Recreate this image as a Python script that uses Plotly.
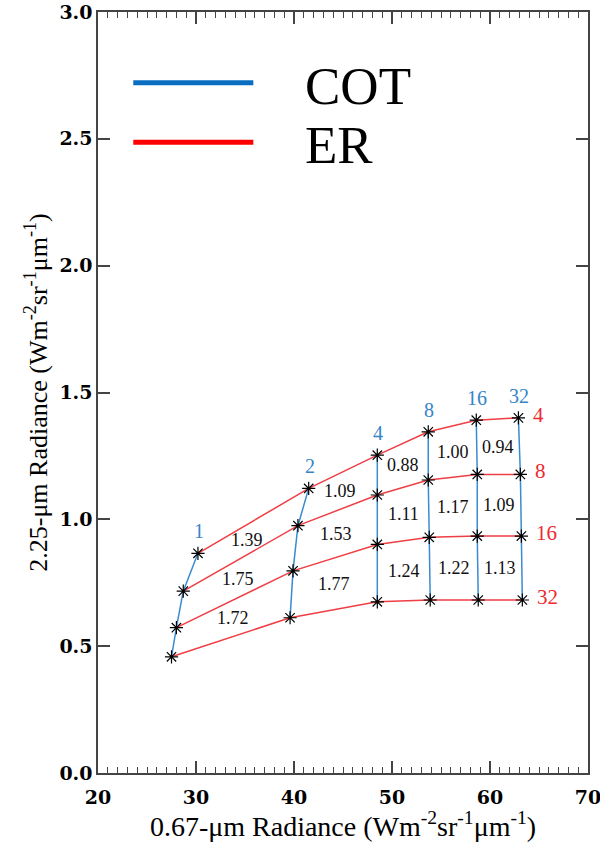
import plotly.graph_objects as go

# Lookup-table grid: cloud optical thickness (COT) and effective radius (ER)
cot = [1, 2, 4, 8, 16, 32]
er = [4, 8, 16, 32]

# 0.67-um radiance, one row per ER, columns follow COT
rad067 = [
    [30.2, 41.5, 48.5, 53.7, 58.6, 62.9],
    [28.7, 40.4, 48.5, 53.7, 58.7, 63.1],
    [28.0, 39.9, 48.5, 53.8, 58.7, 63.2],
    [27.5, 39.6, 48.5, 53.9, 58.8, 63.3],
]
# 2.25-um radiance, same layout
rad225 = [
    [0.866, 1.122, 1.253, 1.345, 1.391, 1.400],
    [0.717, 0.975, 1.096, 1.155, 1.177, 1.177],
    [0.573, 0.797, 0.901, 0.929, 0.934, 0.934],
    [0.458, 0.612, 0.675, 0.682, 0.682, 0.682],
]
# values written inside each grid cell (rows: ER pairs, columns: COT pairs)
ratios = [
    [1.39, 1.09, 0.88, 1.00, 0.94],
    [1.75, 1.53, 1.11, 1.17, 1.09],
    [1.72, 1.77, 1.24, 1.22, 1.13],
]

legend_names = ["COT", "ER"]

BLUE_LINE = "#3a8bd2"
RED_LINE = "#ef3e44"
BLUE_TXT = "#3585c8"
RED_TXT = "#ec2a30"
SERIF = "Liberation Serif, Times New Roman, Times, serif"
BOLD_SERIF = "DejaVu Serif, serif"

fig = go.Figure()

# constant-ER curves
for i in range(len(er)):
    fig.add_trace(go.Scatter(x=rad067[i], y=rad225[i], mode="lines",
                             line=dict(color=RED_LINE, width=1.5),
                             showlegend=False, hoverinfo="skip"))
# constant-COT curves
for j in range(len(cot)):
    fig.add_trace(go.Scatter(x=[row[j] for row in rad067],
                             y=[row[j] for row in rad225], mode="lines",
                             line=dict(color=BLUE_LINE, width=1.5),
                             showlegend=False, hoverinfo="skip"))
# grid nodes
fig.add_trace(go.Scatter(x=[v for row in rad067 for v in row],
                         y=[v for row in rad225 for v in row], mode="markers",
                         marker=dict(symbol="asterisk-open", size=11, color="black",
                                     line=dict(color="black", width=1.2)),
                         showlegend=False))

ann = []
# COT labels above the top curve
for j, c in enumerate(cot):
    ann.append(dict(x=rad067[0][j], y=rad225[0][j], text=str(c), showarrow=False,
                    xshift=1, yshift=22,
                    font=dict(family=SERIF, size=20, color=BLUE_TXT)))
# ER labels right of the last column
for i, e in enumerate(er):
    ann.append(dict(x=rad067[i][-1], y=rad225[i][-1], text=str(e), showarrow=False,
                    xanchor="left", xshift=13, yshift=3,
                    font=dict(family=SERIF, size=21, color=RED_TXT)))
# cell values at cell centres
for i in range(len(er) - 1):
    for j in range(len(cot) - 1):
        cx = (rad067[i][j] + rad067[i][j + 1] + rad067[i + 1][j] + rad067[i + 1][j + 1]) / 4
        cy = (rad225[i][j] + rad225[i][j + 1] + rad225[i + 1][j] + rad225[i + 1][j + 1]) / 4
        ann.append(dict(x=cx, y=cy, text=f"{ratios[i][j]:.2f}", showarrow=False,
                        font=dict(family=SERIF, size=18, color="#111")))

# legend drawn as thick bars with large labels
shapes = []
for k, (name, col, ly) in enumerate(zip(legend_names, ["#0a6ec0", "#ff0000"], [0.907, 0.829])):
    shapes.append(dict(type="line", xref="paper", yref="paper",
                       x0=0.072, x1=0.317, y0=ly, y1=ly,
                       line=dict(color=col, width=5)))
    ann.append(dict(xref="paper", yref="paper", x=0.419, y=ly, text=name,
                    showarrow=False, xanchor="left", yanchor="middle", yshift=-3,
                    font=dict(family=SERIF, size=53, color="black")))

axis_line = dict(showline=True, linecolor="#444", linewidth=1.5, mirror="ticks",
                 ticks="inside", ticklen=12, tickwidth=1.5, tickcolor="#444",
                 showgrid=False, zeroline=False, automargin=False,
                 ticklabeloverflow="allow",
                 tickfont=dict(family=BOLD_SERIF, size=19, color="black", weight="bold"))

fig.update_layout(
    width=600, height=842,
    margin=dict(l=98, r=12, t=12, b=69),
    paper_bgcolor="white", plot_bgcolor="white",
    showlegend=False,
    xaxis=dict(range=[20, 70], dtick=10, tick0=20, ticklabelstandoff=6,
               minor=dict(dtick=1, ticks="inside", ticklen=6, tickwidth=1.2, tickcolor="#444"),
               title=dict(text="0.67-μm Radiance (Wm<sup>-2</sup>sr<sup>-1</sup>μm<sup>-1</sup>)",
                          font=dict(family=SERIF, size=28, color="black"), standoff=8),
               **axis_line),
    yaxis=dict(range=[0, 3], dtick=0.5, tick0=0, tickformat=".1f",
               title=dict(text="2.25-μm Radiance (Wm<sup>-2</sup>sr<sup>-1</sup>μm<sup>-1</sup>)",
                          font=dict(family=SERIF, size=26, color="black"), standoff=4),
               **axis_line),
    annotations=ann,
    shapes=shapes,
)

fig.write_html("out.html")
